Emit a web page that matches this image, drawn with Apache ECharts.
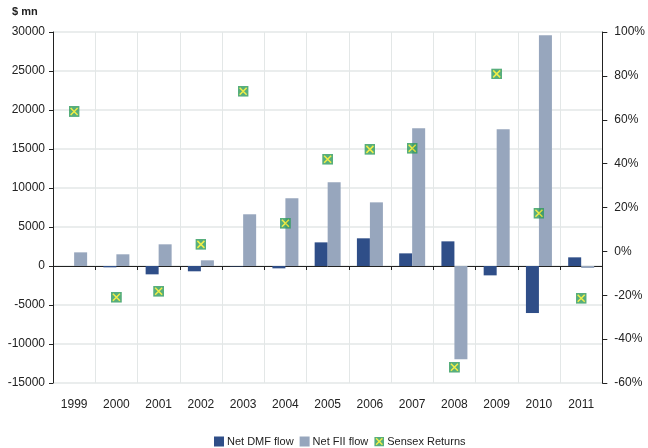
<!DOCTYPE html>
<html><head><meta charset="utf-8">
<script src="https://cdn.jsdelivr.net/npm/echarts@6/dist/echarts.min.js"></script>
<style>html,body{margin:0;padding:0;background:#fff}#c{width:648px;height:448px}</style>
</head><body><div id="c"></div>
<script>
const years = ['1999','2000','2001','2002','2003','2004','2005','2006','2007','2008','2009','2010','2011'];
const netDMF = [0, -170, -1070, -680, -50, -300, 3030, 3550, 1620, 3160, -1200, -6030, 1110];
const netFII = [1750, 1500, 2780, 730, 6630, 8680, 10730, 8160, 17650, -11960, 17520, 29570, -260];
const sensex = [63.8, -20.9, -18.2, 3.2, 73.0, 12.8, 42.0, 46.5, 47.0, -52.8, 80.9, 17.4, -21.4];

const svg = "<svg xmlns='http://www.w3.org/2000/svg' width='11' height='11'><rect width='11' height='11' fill='#2E9A5C'/><path d='M2 2L9 9M9 2L2 9' stroke='#EDEA1C' stroke-width='1.5'/></svg>";
const markerImg = 'image://data:image/svg+xml;charset=utf-8,' + encodeURIComponent(svg);

const font = 'Liberation Sans, Arial, sans-serif';
const chart = echarts.init(document.getElementById('c'), null, {renderer:'canvas'});
chart.setOption({
  animation: false,
  textStyle: {fontFamily: font},
  graphic: [{type:'text', left: 12, top: 6, style:{text:'$ mn', font:'bold 11px ' + font, fill:'#222'}}],
  grid: {left: 53, right: 42, top: 32, bottom: 65},
  legend: {
    left: 209, top: 431, itemWidth: 10, itemHeight: 10, itemGap: 6,
    textStyle: {fontSize: 11, color: '#222', fontFamily: font, padding:[0,0,0,-2]},
    data: [
      {name: 'Net DMF flow', icon: 'rect'},
      {name: 'Net FII flow', icon: 'rect'},
      {name: 'Sensex Returns', icon: markerImg}
    ]
  },
  xAxis: [
    {type:'category', data: years, position:'bottom',
     axisLine:{show:true, onZero:true, onZeroAxisIndex:0, lineStyle:{color:'#222', width:1}},
     axisTick:{show:true, length:4, lineStyle:{color:'#222'}},
     axisLabel:{show:false},
     splitLine:{show:true, lineStyle:{color:'#e3e7e7', width:1}}},
    {type:'category', data: years, position:'bottom',
     axisLine:{show:false, onZero:false}, axisTick:{show:false},
     axisLabel:{show:true, margin:16, fontSize:12, color:'#222', fontFamily:font},
     splitLine:{show:false}}
  ],
  yAxis: [
    {type:'value', min:-15000, max:30000, interval:5000,
     axisLine:{show:true, lineStyle:{color:'#222'}},
     axisTick:{show:true, length:4, lineStyle:{color:'#222'}},
     axisLabel:{margin:8, fontSize:12, color:'#222', fontFamily:font, formatter: v => String(v)},
     splitLine:{show:true, lineStyle:{color:'#e3e7e7', width:1.5}}},
    {type:'value', min:-60, max:100, interval:20, position:'right',
     axisLine:{show:true, lineStyle:{color:'#222'}},
     axisTick:{show:true, length:5, lineStyle:{color:'#222'}},
     axisLabel:{margin:12, fontSize:12, color:'#222', fontFamily:font, formatter:'{value}%'},
     splitLine:{show:false}}
  ],
  series: [
    {name:'Net DMF flow', type:'bar', data: netDMF, xAxisIndex:0, yAxisIndex:0,
     barWidth:13, barGap:'0%', itemStyle:{color:'#2F4E88'}},
    {name:'Net FII flow', type:'bar', data: netFII, xAxisIndex:0, yAxisIndex:0,
     barWidth:13, barGap:'0%', itemStyle:{color:'#97A6BD'}},
    {name:'Sensex Returns', type:'scatter', data: sensex, xAxisIndex:0, yAxisIndex:1,
     symbol: markerImg, symbolSize: 11, z: 5}
  ]
});
</script></body></html>
